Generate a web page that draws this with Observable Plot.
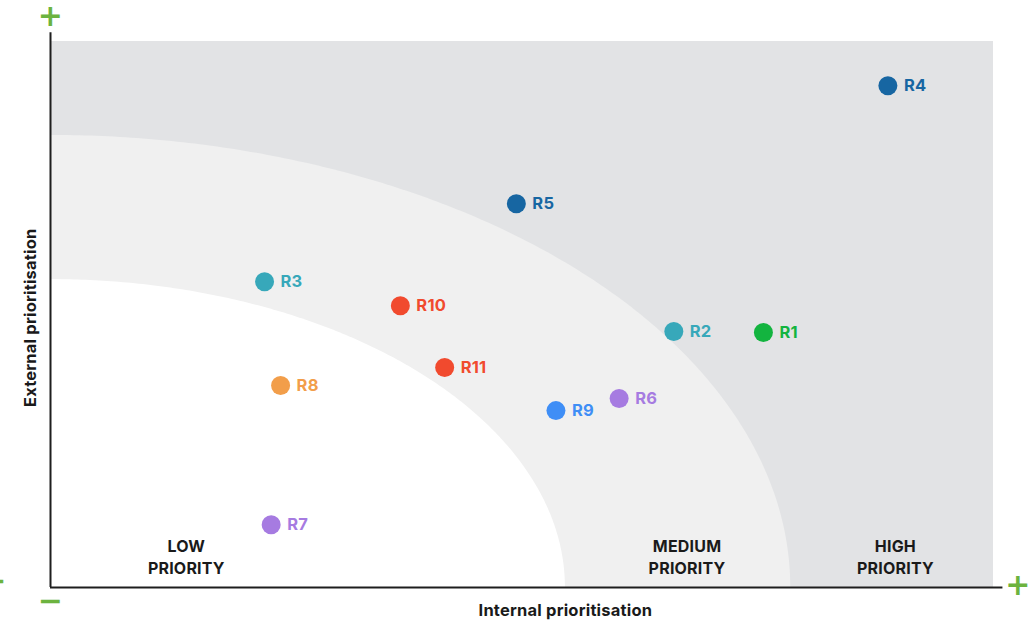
<!DOCTYPE html>
<html>
<head>
<meta charset="utf-8">
<script src="https://cdn.jsdelivr.net/npm/d3@7"></script>
<script src="https://cdn.jsdelivr.net/npm/@observablehq/plot@0.6"></script>
<style>
  html, body { margin: 0; padding: 0; background: #ffffff; }
  #chart svg { display: block; }
  #chart svg text { letter-spacing: 0.2px; }
</style>
</head>
<body>
<div id="chart"></div>
<script>
// ---- Data ----
const names   = ["R1", "R2", "R3", "R4", "R5", "R6", "R7", "R8", "R9", "R10", "R11"];
const internal = [7.56, 6.61, 2.27, 8.88, 4.94, 6.03, 2.34, 2.44, 5.36, 3.71, 4.18];
const external = [4.67, 4.69, 5.60, 9.19, 7.03, 3.46, 1.15, 3.70, 3.24, 5.16, 4.03];
const colors   = ["#13b43f", "#37a8ba", "#37a8ba", "#1766a2", "#1766a2", "#a67be1",
                  "#a67be1", "#f29e4a", "#3f8ef6", "#f14a2e", "#f14a2e"];

// priority zones (quarter ellipses anchored at origin): [radiusX, radiusY]
const zoneNames  = ["MEDIUM", "LOW"];
const zoneRadiiX = [7.85, 5.46];
const zoneRadiiY = [8.28, 5.64];
const zoneFills  = ["#f0f0f0", "#ffffff"];

// zone labels
const zoneLabels = ["LOW\nPRIORITY", "MEDIUM\nPRIORITY", "HIGH\nPRIORITY"];
const zoneLabelX = [1.44, 6.75, 8.96];
const zoneLabelY = [0.58, 0.58, 0.58];

// axis end markers
const markerText = ["+", "−", "+", "−"];
const markerX    = [0, 0, 10.26, -0.6];
const markerY    = [10.46, -0.26, 0.04, 0.12];

const points = names.map((n, i) => ({name: n, x: internal[i], y: external[i], color: colors[i]}));
const labels = zoneLabels.map((t, i) => ({text: t, x: zoneLabelX[i], y: zoneLabelY[i]}));
const markers = markerText.map((t, i) => ({text: t, x: markerX[i], y: markerY[i]}));

function quarterEllipse(rx, ry) {
  return d3.range(0, 201).map(k => {
    const a = (k / 200) * Math.PI / 2;
    return {x: rx * Math.cos(a), y: ry * Math.sin(a)};
  });
}

const font = "Inter, 'DejaVu Sans', sans-serif";

const plot = Plot.plot({
  width: 1030,
  height: 623,
  marginLeft: 50,
  marginRight: 37,
  marginTop: 41,
  marginBottom: 36,
  x: {domain: [0, 10], axis: null},
  y: {domain: [0, 10], axis: null},
  style: {fontFamily: font, background: "#ffffff", overflow: "visible"},
  marks: [
    Plot.rect([{x1: 0, x2: 10, y1: 0, y2: 10}], {x1: "x1", x2: "x2", y1: "y1", y2: "y2", fill: "#e2e3e5"}),
    ...zoneNames.map((z, i) =>
      Plot.areaY(quarterEllipse(zoneRadiiX[i], zoneRadiiY[i]), {x: "x", y: "y", fill: zoneFills[i]})
    ),
    Plot.ruleX([0], {y1: 0, y2: 10.16, stroke: "#1e1e1e", strokeWidth: 2}),
    Plot.ruleY([0], {x1: 0, x2: 10.1, stroke: "#1e1e1e", strokeWidth: 2}),
    Plot.text(markers, {x: "x", y: "y", text: "text", fill: "#6cb33f", fontSize: 30, fontWeight: "bold",
      fontFamily: "'DejaVu Sans', sans-serif"}),
    Plot.dot(points, {x: "x", y: "y", r: 9.5, fill: "color", stroke: null}),
    Plot.text(points, {x: "x", y: "y", text: "name", fill: "color", dx: 16, textAnchor: "start",
      fontSize: 16.5, fontWeight: 700}),
    Plot.text(labels, {x: "x", y: "y", text: "text", fill: "#1a1a1a", fontSize: 16, fontWeight: 700,
      lineHeight: 1.35, lineAnchor: "middle"}),
    Plot.text(["Internal prioritisation"], {x: 5.46, y: 0, dy: 23, text: d => d, fill: "#1a1a1a",
      fontSize: 16.5, fontWeight: 700}),
    Plot.text(["External prioritisation"], {x: 0, y: 4.94, dx: -20, rotate: -90, text: d => d,
      fill: "#1a1a1a", fontSize: 16.5, fontWeight: 700})
  ]
});

document.getElementById("chart").appendChild(plot);
</script>
</body>
</html>
